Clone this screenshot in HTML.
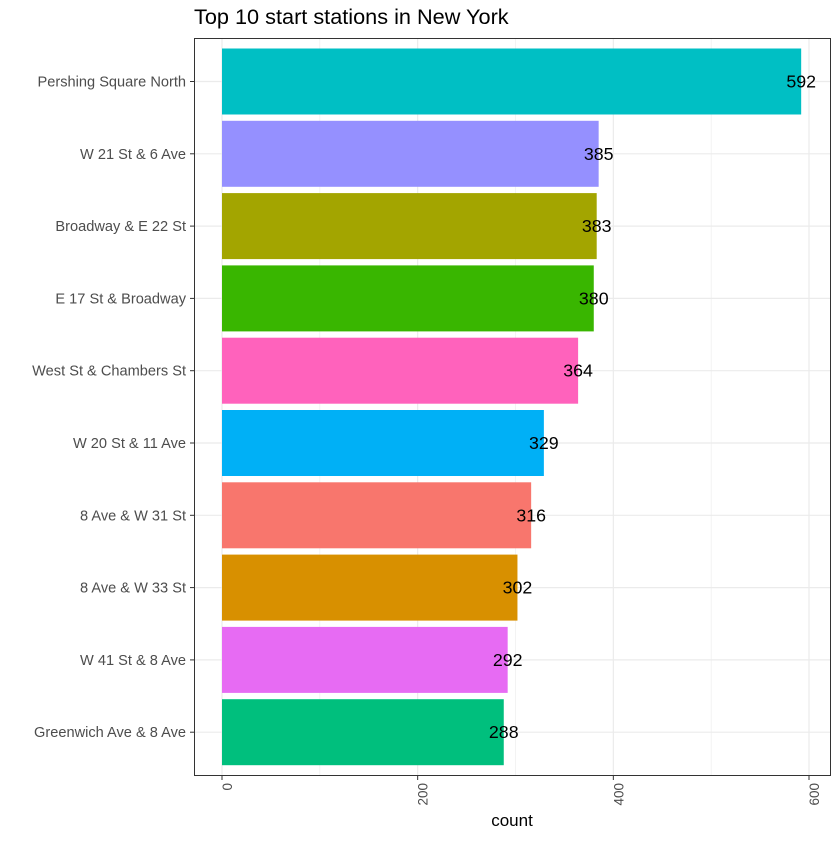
<!DOCTYPE html>
<html><head><meta charset="utf-8"><style>
body{margin:0;background:#fff;font-family:"Liberation Sans",sans-serif}
</style></head><body>
<svg id="chart" width="840" height="840" xmlns="http://www.w3.org/2000/svg" font-family="Liberation Sans, sans-serif">
<rect width="840" height="840" fill="#fff"/>
<text x="194" y="24" font-size="21.7" fill="#000">Top 10 start stations in New York</text>
<g id="grid"></g><g id="bars"></g><g id="axes"></g>
<rect x="194.5" y="38.5" width="636" height="737" fill="none" stroke="#333" stroke-width="1"/>
<text x="512" y="826" font-size="17" text-anchor="middle" fill="#000">count</text>
</svg>
<script>
const categories=["Pershing Square North","W 21 St & 6 Ave","Broadway & E 22 St","E 17 St & Broadway","West St & Chambers St","W 20 St & 11 Ave","8 Ave & W 31 St","8 Ave & W 33 St","W 41 St & 8 Ave","Greenwich Ave & 8 Ave"];
const counts=[592,385,383,380,364,329,316,302,292,288];
const colors=["#00BFC4","#9590FF","#A3A500","#39B600","#FF62BC","#00B0F6","#F8766D","#D89000","#E76BF3","#00BF7D"];
const xTicks=[0,200,400,600];
const xMinor=[100,300,500];
const NS="http://www.w3.org/2000/svg";
const x=v=>222+v*(587/600);
const y=i=>81.5+i*72.3;
const barH=66;
function mk(tag,attrs,parent){const e=document.createElementNS(NS,tag);for(const k in attrs)e.setAttribute(k,attrs[k]);parent.appendChild(e);return e;}
const grid=document.getElementById('grid'),bars=document.getElementById('bars'),axes=document.getElementById('axes');
xMinor.forEach(v=>{const l=mk('line',{x1:x(v),x2:x(v),y1:39,y2:775,stroke:'#ebebeb','stroke-width':0.6},grid);

});
xTicks.forEach(v=>{const l=mk('line',{x1:x(v),x2:x(v),y1:39,y2:775,stroke:'#ebebeb','stroke-width':1.2},grid);


const t=mk('line',{x1:x(v),x2:x(v),y1:776,y2:780,stroke:'#333','stroke-width':1},axes);


const tx=mk('text',{transform:`translate(${x(v)+10},783) rotate(-90)`,'font-size':13.5,fill:'#4d4d4d','text-anchor':'end'},axes);
tx.textContent=v;

});
categories.forEach((c,i)=>{
const g=mk('line',{x1:195,x2:830,y1:y(i),y2:y(i),stroke:'#ebebeb','stroke-width':1.2},grid);


const r=mk('rect',{x:x(0),y:y(i)-barH/2,width:x(counts[i])-x(0),height:barH,fill:colors[i]},bars);


const vl=mk('text',{x:x(counts[i]),y:y(i)+6,'font-size':17.8,'text-anchor':'middle',fill:'#000'},bars);
vl.textContent=counts[i];


const t=mk('line',{x1:190,x2:194,y1:y(i),y2:y(i),stroke:'#333','stroke-width':1},axes);


const lb=mk('text',{x:186,y:y(i)+5,'font-size':14.6,'text-anchor':'end',fill:'#4d4d4d'},axes);
lb.textContent=c;


});
</script>
</body></html>
